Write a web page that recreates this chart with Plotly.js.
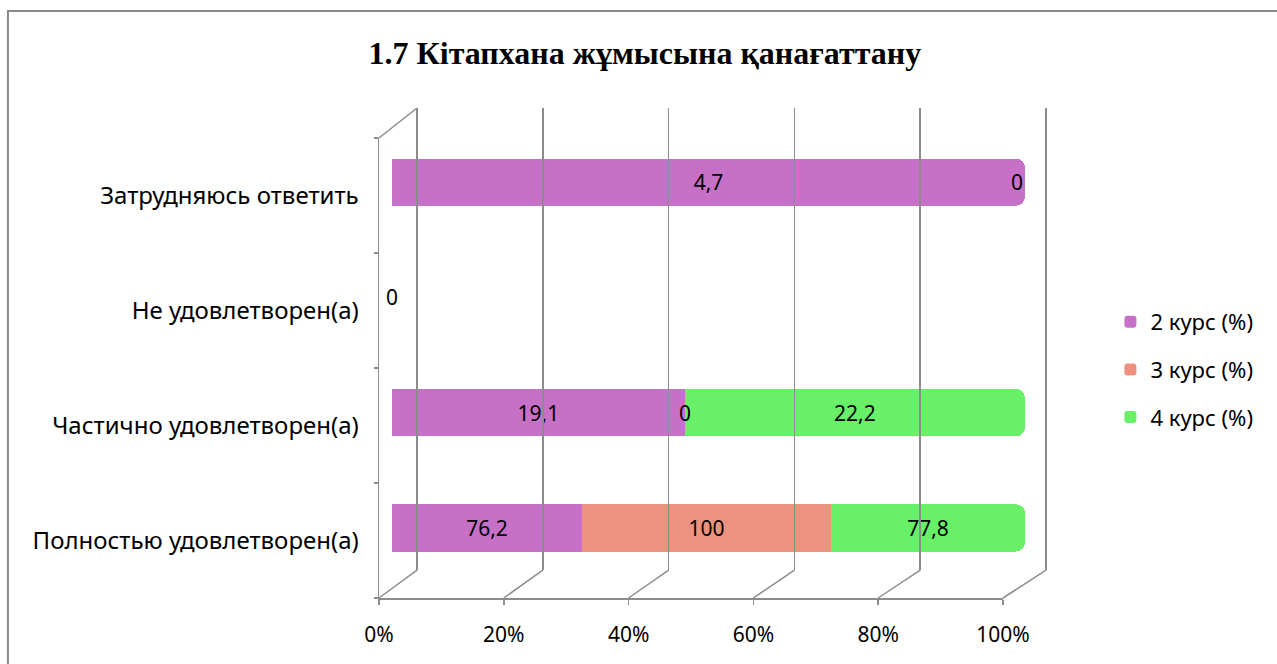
<!DOCTYPE html>
<html>
<head>
<meta charset="utf-8">
<script src="https://cdn.plot.ly/plotly-3.0.1.min.js"></script>
<style>html,body{margin:0;padding:0;background:#fff;}#chart{width:1277px;height:664px;}</style>
</head>
<body>
<div id="chart"></div>
<script>
// ---- data ----
var categories = ['Полностью удовлетворен(а)', 'Частично удовлетворен(а)', 'Не удовлетворен(а)', 'Затрудняюсь ответить'];
var seriesNames = ['2 курс (%)', '3 курс (%)', '4 курс (%)'];
var kurs2 = [76.2, 19.1, 0, 4.7];
var kurs3 = [100, 0, 0, 0];
var kurs4 = [77.8, 22.2, 0, 0];
var tickVals = [0, 20, 40, 60, 80, 100];
var tickLabels = ['0%', '20%', '40%', '60%', '80%', '100%'];

// ---- style ----
var colors = ['#C670C7', '#EE9280', '#68F068'];
var gridColor = '#8c8c8c';
var labelFont = 'Noto Sans, Open Sans, sans-serif';

// axis domains (paper fractions)
var xBarDom = [0.0194, 0.9627];
var xBackDom = [0.0520, 0.9987];
var xBackRange = [-0.5, 100.5];
var xFrontDom = [0, 0.9300];
var yBarDom = [0.0255, 0.9663];
var yBackDom = [0.0571, 1];
var yFrontDom = [0, 0.9388];

var series = [kurs2, kurs3, kurs4];
function fmt(v) { return String(v).replace('.', ','); }

var traces = series.map(function (vals, i) {
  return {
    type: 'bar',
    orientation: 'h',
    name: seriesNames[i],
    legendgroup: 'g' + i,
    y: categories,
    x: vals,
    xaxis: 'x', yaxis: 'y',
    width: 0.41,
    marker: { color: colors[i], line: { width: 0 } },
    text: vals.map(function (v) { return v === 0 ? '' : fmt(v); }),
    textposition: 'inside',
    insidetextanchor: 'middle',
    constraintext: 'none',
    textfont: { family: labelFont, size: 21, color: '#000' },
    hoverinfo: 'name+x'
  };
});

// helper traces so that the decorative axes get drawn
traces.push({ type: 'scatter', mode: 'markers', x: [null], y: [null], xaxis: 'x2', yaxis: 'y2', showlegend: false, hoverinfo: 'skip' });
traces.push({ type: 'scatter', mode: 'markers', x: categories.map(function () { return null; }), y: categories, xaxis: 'x3', yaxis: 'y3', showlegend: false, hoverinfo: 'skip' });

// labels for zero values, placed at their stack position
var annotations = [];
categories.forEach(function (c, ci) {
  var total = series.reduce(function (s, arr) { return s + arr[ci]; }, 0);
  var cum = 0;
  var seen = {};
  series.forEach(function (arr) {
    var v = arr[ci];
    var p = total > 0 ? cum / total * 100 : 0;
    if (v === 0 && !seen[p]) {
      seen[p] = true;
      annotations.push({
        xref: 'x', yref: 'y', x: p, y: c, text: '0', showarrow: false,
        xanchor: p >= 100 ? 'right' : 'center',
        font: { family: labelFont, size: 21, color: '#000' }
      });
    }
    cum += v;
  });
});

// 3D floor / wall perspective lines
var shapes = [];
function frontX(t) { return xFrontDom[0] + t / 100 * (xFrontDom[1] - xFrontDom[0]); }
function backX(t) { return xBackDom[0] + (t - xBackRange[0]) / (xBackRange[1] - xBackRange[0]) * (xBackDom[1] - xBackDom[0]); }
tickVals.forEach(function (t) {
  shapes.push({ type: 'line', xref: 'paper', yref: 'paper', x0: frontX(t), y0: yFrontDom[0], x1: backX(t), y1: yBackDom[0], line: { color: gridColor, width: 1.5 } });
});
shapes.push({ type: 'line', xref: 'paper', yref: 'paper', x0: frontX(0), y0: yFrontDom[1], x1: backX(0), y1: yBackDom[1], line: { color: gridColor, width: 1.5 } });
// outer chart border
shapes.push({ type: 'rect', xref: 'paper', yref: 'paper', x0: -0.553, y0: -0.16, x1: 1.4, y1: 1.198, line: { color: '#888', width: 2 }, fillcolor: 'rgba(0,0,0,0)' });

var layout = {
  width: 1277, height: 664,
  margin: { l: 379, r: 227, t: 108, b: 66, pad: 0 },
  paper_bgcolor: '#fff', plot_bgcolor: 'rgba(0,0,0,0)',
  barmode: 'stack', barnorm: 'percent',
  barcornerradius: 9,
  showlegend: true,
  title: {
    text: '<b>1.7 Кітапхана жұмысына қанағаттану</b>',
    font: { family: 'Liberation Serif, Times New Roman, serif', size: 32, color: '#000' },
    xref: 'container', yref: 'container', x: 0.505, xanchor: 'center', y: 0.92, yanchor: 'middle'
  },
  xaxis: { domain: xBarDom, anchor: 'y', range: [0, 100], visible: false, fixedrange: true },
  yaxis: { domain: yBarDom, anchor: 'x', type: 'category', categoryorder: 'array', categoryarray: categories, range: [-0.5, 3.5], visible: false, fixedrange: true },
  xaxis2: { domain: xBackDom, anchor: 'y2', range: xBackRange, tickvals: tickVals, showgrid: true, gridcolor: gridColor, gridwidth: 1.5, showticklabels: false, zeroline: false, showline: false, ticks: '' },
  yaxis2: { domain: yBackDom, anchor: 'x2', range: [0, 1], visible: false },
  xaxis3: {
    domain: xFrontDom, anchor: 'y3', range: [0, 100], tickvals: tickVals, ticktext: tickLabels,
    showgrid: false, zeroline: false, showline: true, linecolor: gridColor, linewidth: 1.5,
    ticks: 'outside', ticklen: 5, tickcolor: gridColor, tickwidth: 1.5,
    ticklabelstandoff: 12,
    tickfont: { family: labelFont, size: 21, color: '#000' }
  },
  yaxis3: {
    domain: yFrontDom, anchor: 'x3', type: 'category', categoryorder: 'array', categoryarray: categories, range: [-0.5, 3.5],
    showgrid: false, zeroline: false, showline: true, linecolor: gridColor, linewidth: 1.5,
    ticks: 'outside', tickson: 'boundaries', ticklen: 4, tickcolor: gridColor, tickwidth: 1.5,
    ticklabelstandoff: 14,
    tickfont: { family: labelFont, size: 24, color: '#000' }
  },
  legend: {
    x: 1.09, xanchor: 'left', y: 0.606, yanchor: 'top',
    traceorder: 'grouped', tracegroupgap: 16,
    font: { family: labelFont, size: 22, color: '#000' },
    bgcolor: 'rgba(0,0,0,0)'
  },
  annotations: annotations,
  shapes: shapes
};

Plotly.newPlot('chart', traces, layout, { displayModeBar: false, staticPlot: true });
</script>
</body>
</html>
